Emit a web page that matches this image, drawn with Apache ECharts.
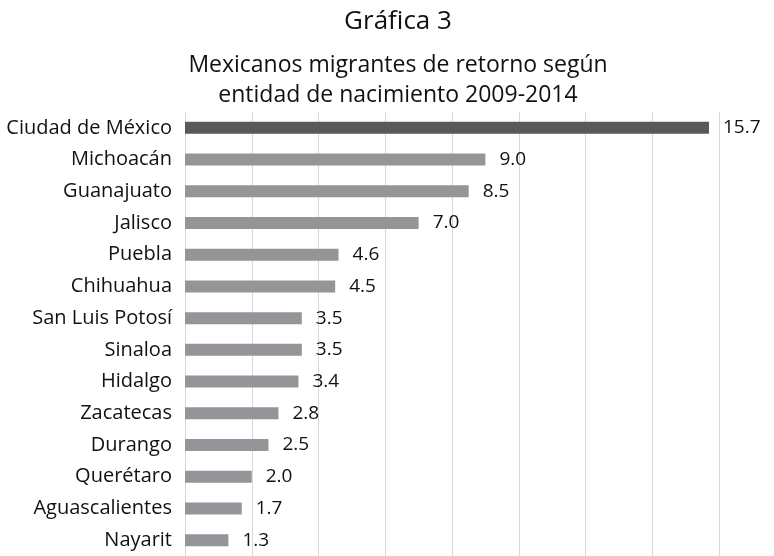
<!DOCTYPE html>
<html>
<head>
<meta charset="utf-8">
<script src="https://cdn.jsdelivr.net/npm/echarts@6/dist/echarts.min.js"></script>
<style>html,body{margin:0;padding:0;background:#fff}#c{width:774px;height:556px}</style>
</head>
<body>
<div id="c"></div>
<script>
const titleText = 'Gráfica 3';
const subtitleText = 'Mexicanos migrantes de retorno según\nentidad de nacimiento 2009-2014';
const categories = ['Ciudad de México','Michoacán','Guanajuato','Jalisco','Puebla','Chihuahua','San Luis Potosí','Sinaloa','Hidalgo','Zacatecas','Durango','Querétaro','Aguascalientes','Nayarit'];
const values = [15.7, 9.0, 8.5, 7.0, 4.6, 4.5, 3.5, 3.5, 3.4, 2.8, 2.5, 2.0, 1.7, 1.3];
const highlightIndex = 0;

const FONT = '"Open Sans", "Noto Sans", sans-serif';
const chart = echarts.init(document.getElementById('c'), null, {renderer: 'canvas'});
chart.setOption({
  backgroundColor: '#ffffff',
  animation: false,
  graphic: [
    {type: 'text', x: 398, y: 9, style: {text: titleText, fill: '#111', font: '26px ' + FONT, textAlign: 'center', textVerticalAlign: 'top'}},
    {type: 'text', x: 398, y: 50, style: {text: subtitleText, fill: '#111', font: '23px ' + FONT, textAlign: 'center', textVerticalAlign: 'top', lineHeight: 30}}
  ],
  grid: {left: 185, top: 112, width: 534, height: 449, containLabel: false},
  xAxis: {
    type: 'value', min: 0, max: 16, interval: 2,
    axisLabel: {show: false}, axisTick: {show: false}, axisLine: {show: false},
    splitLine: {show: true, lineStyle: {color: '#d9d9d9', width: 1}}
  },
  yAxis: {
    type: 'category', data: categories, inverse: true,
    axisTick: {show: false},
    axisLine: {show: true, lineStyle: {color: '#d9d9d9', width: 1}},
    axisLabel: {color: '#111', fontFamily: FONT, fontSize: 20, margin: 13}
  },
  series: [{
    type: 'bar',
    data: values.map((v, i) => ({value: v, itemStyle: {color: i === highlightIndex ? '#58595b' : '#939598'}})),
    barWidth: 12,
    label: {show: true, position: 'right', distance: 14, color: '#111', fontFamily: FONT, fontSize: 19,
      formatter: p => Number(p.value).toFixed(1)}
  }]
});
</script>
</body>
</html>
